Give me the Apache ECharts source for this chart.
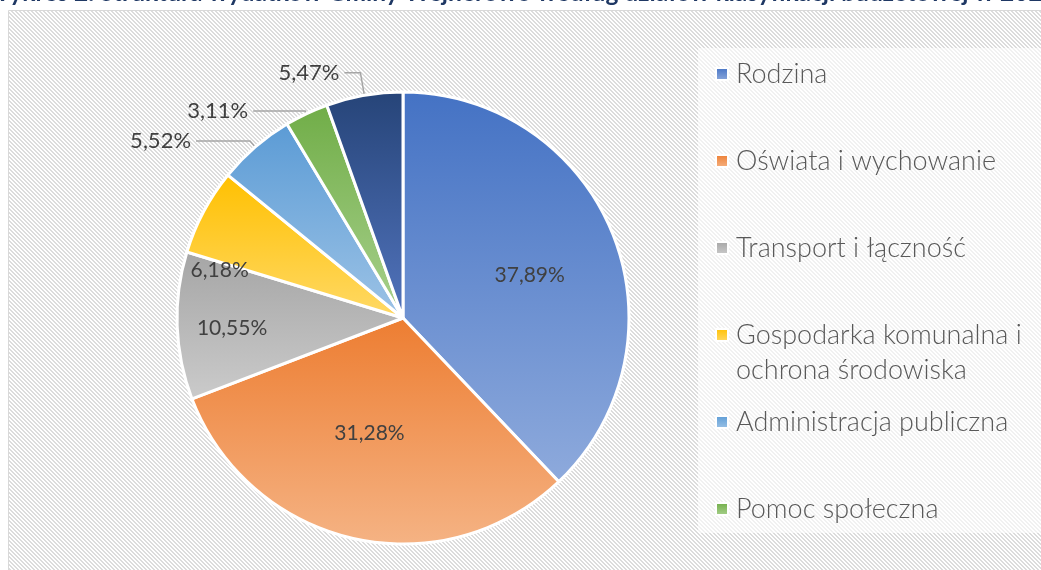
<!DOCTYPE html>
<html>
<head>
<meta charset="utf-8">
<script src="https://cdn.jsdelivr.net/npm/echarts@6/dist/echarts.min.js"></script>
<style>
  html, body { margin: 0; padding: 0; background: #fff; }
  #chart { width: 1041px; height: 570px; }
</style>
</head>
<body>
<div id="chart"></div>
<script>
const categories = [
  "Rodzina",
  "Oświata i wychowanie",
  "Transport i łączność",
  "Gospodarka komunalna i ochrona środowiska",
  "Administracja publiczna",
  "Pomoc społeczna",
  "Pozostałe"
];
const shares = [37.89, 31.28, 10.55, 6.18, 5.52, 3.11, 5.47];
const legendNames = categories.slice(0, 6);
const titleText = "Wykres 2. Struktura wydatków Gminy Wejherowo według działów klasyfikacji budżetowej w 2022";

// gradient pairs (top, bottom) in Excel office palette
const colorPairs = [
  ["#4472c4", "#8eaadc"],
  ["#ed7d31", "#f5b384"],
  ["#a5a5a5", "#cbcbcb"],
  ["#ffc000", "#ffd966"],
  ["#5b9bd5", "#9dc3e6"],
  ["#70ad47", "#a9d18e"],
  ["#264478", "#5274bd"]
];

// label placement per slice
const labelStyles = [
  { position: "inside", offset: [19, 0] },
  { position: "inside", offset: [-8, 2] },
  { position: "inside", offset: [-55, 6] },
  { position: "inside", offset: [-81, 7] },
  { position: "outside", len: 8, len2: 54 },
  { position: "outside", len: 3, len2: 52 },
  { position: "outside", len: 23, len2: 16 }
];

const legendCenters = [74, 161, 248, 335, 422, 509];

const makeHatch = () => {
  const c = document.createElement("canvas");
  c.width = 8;
  c.height = 8;
  const ctx = c.getContext("2d");
  ctx.fillStyle = "#ffffff";
  ctx.fillRect(0, 0, 8, 8);
  ctx.fillStyle = "#dcdcdc";
  for (let y = 0; y < 8; y++) {
    for (let x = 0; x < 8; x++) {
      if ((x - y + 16) % 4 < 2) ctx.fillRect(x, y, 1, 1);
    }
  }
  return c;
};

const grad = pair => ({
  type: "linear",
  x: 0, y: 0, x2: 0, y2: 1,
  colorStops: [
    { offset: 0, color: pair[0] },
    { offset: 1, color: pair[1] }
  ]
});

const fontFamily = "Lato, 'Open Sans', sans-serif";

const pieData = categories.map((name, i) => {
  const ls = labelStyles[i];
  const inside = ls.position === "inside";
  return {
    name: name,
    value: shares[i],
    itemStyle: { color: grad(colorPairs[i]) },
    label: inside
      ? { position: "inside", offset: ls.offset }
      : { position: "outside", fontSize: 22 },
    labelLine: inside ? { show: false } : { show: true, length: ls.len, length2: ls.len2 }
  };
});

const legends = legendNames.map((name, i) => {
  const twoLine = name === categories[3];
  return {
    data: [name],
    orient: "vertical",
    left: 715,
    top: twoLine ? legendCenters[i] - 52.5 : legendCenters[i] - 17.5,
    padding: 0,
    itemWidth: 12,
    itemHeight: 12,
    icon: "rect",
    selectedMode: false,
    // leading blank line keeps the icon level with the first text line
    formatter: n => (n === categories[3] ? "\nGospodarka komunalna i\nochrona środowiska" : n),
    textStyle: {
      color: "#595959",
      fontSize: 27,
      fontWeight: 300,
      fontFamily: fontFamily,
      lineHeight: 35,
      padding: [0, 0, 0, 3]
    }
  };
});

const chart = echarts.init(document.getElementById("chart"), null, { renderer: "canvas" });
chart.setOption({
  backgroundColor: "#ffffff",
  animation: false,
  title: {
    text: titleText,
    left: "center",
    top: -19,
    padding: 0,
    textStyle: {
      color: "#1f3864",
      fontSize: 24.5,
      fontWeight: "bold",
      fontFamily: fontFamily
    }
  },
  graphic: [
    {
      type: "rect",
      z: -10,
      silent: true,
      shape: { x: 8.5, y: 10.5, width: 1040, height: 570 },
      style: {
        fill: { image: makeHatch(), repeat: "repeat" },
        stroke: "#d9d9d9",
        lineWidth: 1
      }
    },
    {
      type: "rect",
      z: -9,
      silent: true,
      shape: { x: 698, y: 48, width: 350, height: 485 },
      style: { fill: "rgba(255,255,255,0.6)" }
    }
  ],
  legend: legends,
  series: [
    {
      type: "pie",
      center: [403, 318],
      radius: [0, 226],
      startAngle: 90,
      clockwise: true,
      data: pieData,
      itemStyle: { borderColor: "#ffffff", borderWidth: 3 },
      label: {
        show: true,
        formatter: p => p.value.toFixed(2).replace(".", ",") + "%",
        color: "#404040",
        fontSize: 21,
        fontFamily: fontFamily
      },
      labelLine: {
        lineStyle: { color: "#a6a6a6", width: 1.5 }
      }
    }
  ]
});
</script>
</body>
</html>
